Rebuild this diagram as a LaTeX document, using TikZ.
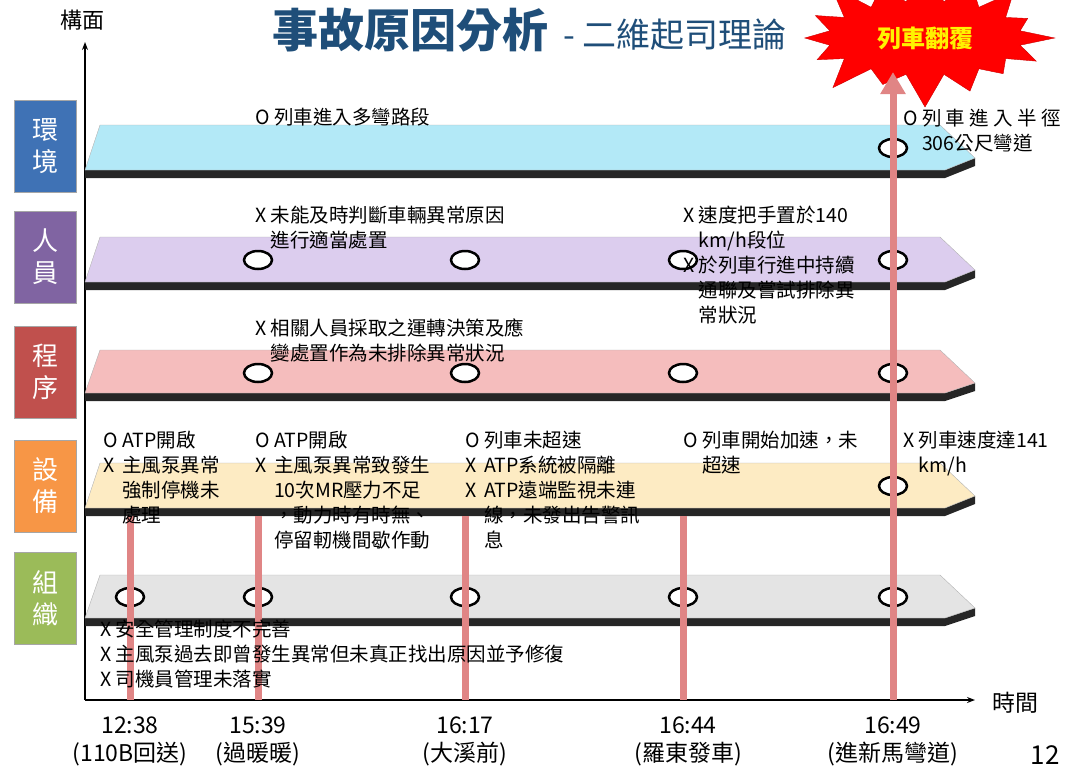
\documentclass[tikz,border=0pt]{standalone}
\usepackage{fontspec}
\setmainfont{Noto Sans CJK TC}
\usetikzlibrary{positioning,shapes.symbols,arrows.meta}

\definecolor{envc}{HTML}{B3E9F7}
\definecolor{perc}{HTML}{DCCDEE}
\definecolor{proc}{HTML}{F5BDBD}
\definecolor{equc}{HTML}{FDEBC3}
\definecolor{orgc}{HTML}{E4E4E4}
\definecolor{envtag}{HTML}{3F72B5}
\definecolor{pertag}{HTML}{8064A2}
\definecolor{protag}{HTML}{C0504D}
\definecolor{equtag}{HTML}{F79646}
\definecolor{orgtag}{HTML}{9BBB59}
\definecolor{poleC}{HTML}{E08585}
\definecolor{titleC}{HTML}{1F4E79}

\tikzset{
  facetag/.style={draw=gray!70,line width=1pt,text=white,minimum width=62pt,minimum height=92pt,
    font=\fontsize{26}{32}\selectfont,align=center},
  note/.style={anchor=north west,inner sep=0pt,font=\fontsize{19.5}{25}\selectfont},
  hole/.style={draw=black,line width=2.5pt,fill=white},
  pole/.style={poleC,line width=7pt},
  timelbl/.style={align=center,font=\fontsize{23}{28}\selectfont}
}

% slab: top y, bottom y, colour
\newcommand{\slab}[3]{%
  \fill[black!85] (85,#2) -- (945,#2) -- (975,#1+33) -- (975,#1+41) -- (945,#2+8) -- (85,#2+8) -- cycle;
  \fill[#3,draw=gray!60] (85,#2) -- (100,#1) -- (940,#1) -- (975,#1+33) -- (945,#2) -- cycle;
}
\newcommand{\holeat}[2]{\draw[hole] (#1,#2) ellipse [x radius=14,y radius=9];}

\begin{document}
\begin{tikzpicture}[x=1pt,y=-1pt]
      \useasboundingbox (0,0) rectangle (1080,780);

      % axes
      \draw[line width=1.5pt,-{Stealth[length=8pt]}] (85,700) -- (85,42);
      \draw[line width=1.5pt,-{Stealth[length=8pt]}] (85,700) -- (975,700);
      \node[font=\fontsize{22}{26}\selectfont] (yaxis) at (82,20) {構面};
      \node[font=\fontsize{23}{26}\selectfont] (xaxis) at (1015,703) {時間};

      % title
      \node[anchor=west,inner sep=0pt,text=titleC] (title) at (272,30)
        {{\fontsize{46}{50}\selectfont\bfseries 事故原因分析}{\fontsize{34}{38}\selectfont\ \ - 二維起司理論}};
      \node[starburst,starburst points=16,starburst point height=38pt,fill=red,draw=red!80!black,
        minimum width=270pt,minimum height=150pt,text=yellow,font=\fontsize{24}{28}\selectfont\bfseries] (crash) at (925,38) {列車翻覆};

      % face tags
      \node[facetag,fill=envtag] (env) at (45,146) {環\\境};
      \node[facetag,fill=pertag] (per) at (45,257) {人\\員};
      \node[facetag,fill=protag] (pro) at (45,372) {程\\序};
      \node[facetag,fill=equtag] (equ) at (45,486) {設\\備};
      \node[facetag,fill=orgtag] (org) at (45,598) {組\\織};

      % slabs
      \slab{125}{170}{envc}
      \slab{237}{282}{perc}
      \slab{350}{393}{proc}
      \slab{463}{508}{equc}
      \slab{575}{618}{orgc}

      % holes
      \holeat{893}{148}
      \foreach \x in {258,465,683,893} {\holeat{\x}{260} \holeat{\x}{373}}
      \holeat{893}{486}
      \foreach \x in {130,258,465,683,893} {\holeat{\x}{597}}

      % poles
      \foreach \x in {130,258,465,683} {\draw[pole] (\x,516) -- (\x,700);}
      \draw[pole,-{Triangle[length=22pt,width=24pt]}] (893,700) -- (893,72);

      % notes
      \node[note] (n1) at (255,108) {O 列車進入多彎路段};
      \node[note] (n2) at (903,108) {\begin{tabular}{@{}l@{ }l@{}}O & 列 車 進 入 半 徑\\ & 306公尺彎道\end{tabular}};
      \node[note] (n3) at (255,205) {\begin{tabular}{@{}l@{ }l@{}}X & 未能及時判斷車輛異常原因\\ & 進行適當處置\end{tabular}};
      \node[note] (n4) at (683,205) {\begin{tabular}{@{}l@{ }l@{}}X & 速度把手置於140\\ & km/h段位\\ X & 於列車行進中持續\\ & 通聯及嘗試排除異\\ & 常狀況\end{tabular}};
      \node[note] (n5) at (255,318) {\begin{tabular}{@{}l@{ }l@{}}X & 相關人員採取之運轉決策及應\\ & 變處置作為未排除異常狀況\end{tabular}};
      \node[note] (n6) at (103,430) {\begin{tabular}{@{}l@{ }l@{}}O & ATP開啟\\ X & 主風泵異常\\ & 強制停機未\\ & 處理\end{tabular}};
      \node[note] (n7) at (255,430) {\begin{tabular}{@{}l@{ }l@{}}O & ATP開啟\\ X & 主風泵異常致發生\\ & 10次MR壓力不足\\ & ，動力時有時無、\\ & 停留軔機間歇作動\end{tabular}};
      \node[note] (n8) at (465,430) {\begin{tabular}{@{}l@{ }l@{}}O & 列車未超速\\ X & ATP系統被隔離\\ X & ATP遠端監視未連\\ & 線，未發出告警訊\\ & 息\end{tabular}};
      \node[note] (n9) at (683,430) {\begin{tabular}{@{}l@{ }l@{}}O & 列車開始加速，未\\ & 超速\end{tabular}};
      \node[note] (n10) at (903,430) {\begin{tabular}{@{}l@{ }l@{}}X & 列車速度達141\\ & km/h\end{tabular}};
      \node[note] (n11) at (100,619) {\begin{tabular}{@{}l@{ }l@{}}X & 安全管理制度不完善\\ X & 主風泵過去即曾發生異常但未真正找出原因並予修復\\ X & 司機員管理未落實\end{tabular}};

      % time labels
      \node[timelbl] (t1) at (130,741) {12:38\\(110B回送)};
      \node[timelbl] (t2) at (258,741) {15:39\\(過暖暖)};
      \node[timelbl] (t3) at (465,741) {16:17\\(大溪前)};
      \node[timelbl] (t4) at (688,741) {16:44\\(羅東發車)};
      \node[timelbl] (t5) at (893,741) {16:49\\(進新馬彎道)};
      \node[font=\fontsize{26}{30}\selectfont] (page) at (1045,755) {12};
\end{tikzpicture}
\end{document}
